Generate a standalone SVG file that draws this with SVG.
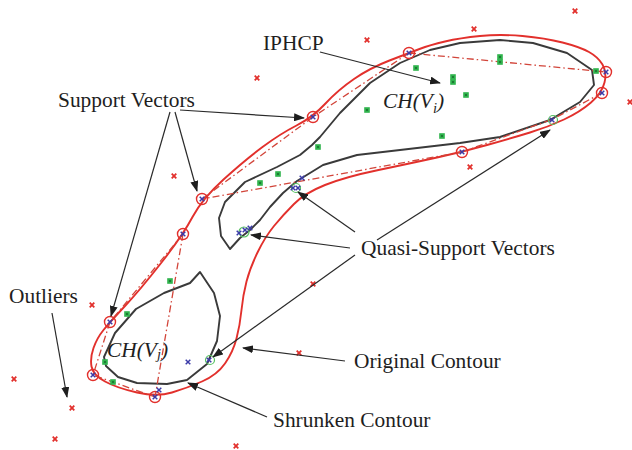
<svg xmlns="http://www.w3.org/2000/svg" width="632" height="450" viewBox="0 0 632 450">
<defs>
<style>
.red{fill:none;stroke:#e2302c;stroke-width:1.9;stroke-linejoin:round}
.blk{fill:none;stroke:#3a3a3a;stroke-width:1.9;stroke-linejoin:round}
.dd{fill:none;stroke:#d2453a;stroke-width:1.3;stroke-dasharray:7,3,1.5,3}
.con{fill:none;stroke:#2a2a2a;stroke-width:1.2;marker-end:url(#ah)}
.lbl{font-family:"Liberation Serif","Times New Roman",serif;font-size:21.4px;fill:#1e1e1e}
.it{font-style:italic}
.sv{fill:none;stroke:#e2302c;stroke-width:1.4}
.qv{fill:none;stroke:#55c060;stroke-width:1.2}
</style>
<marker id="ah" markerUnits="userSpaceOnUse" markerWidth="11" markerHeight="8" refX="10" refY="4" orient="auto">
<path d="M0,0 L11,4 L0,8 z" fill="#1e1e1e"/>
</marker>
<g id="rx"><path d="M-2.3,-2.3 L2.3,2.3 M2.3,-2.3 L-2.3,2.3" stroke="#e2302c" stroke-width="1.8"/></g>
<g id="bx"><path d="M-2.3,-2.3 L2.3,2.3 M2.3,-2.3 L-2.3,2.3" stroke="#3b3ba8" stroke-width="1.5"/></g>
<g id="gs"><rect x="-2.8" y="-2.8" width="5.6" height="5.6" fill="#2fb34c"/><rect x="-1" y="-1" width="2" height="2" fill="#1d7a33"/></g>
</defs>
<rect width="632" height="450" fill="#ffffff"/>

<g id="contours">
<path id="original-contour" class="red" d="M137,392.5 Q157,397 172,392.5 Q187,388 202,381.5 Q217,375 225,363.5 Q233,352 236.5,338.5 Q240,325 241.5,310 Q243,295 246.5,281.5 Q250,268 257.5,252.5 Q265,237 274,226 Q283,215 294,204 Q305,193 325,185 Q345,177 378.5,170 Q412,163 437,157.5 Q462,152 487,145 Q512,138 530,132.5 Q548,127 564,119.5 Q580,112 591,102.5 Q602,93 604.5,82.5 Q607,72 602.5,64.5 Q598,57 589,52 Q580,47 562.5,42.5 Q545,38 522.5,36 Q500,34 480,36 Q460,38 445,41.5 Q430,45 419.5,49 Q409,53 389.5,60.5 Q370,68 354,79 Q338,90 325.5,103.5 Q313,117 296.5,125.5 Q280,134 262.5,147 Q245,160 223.5,179.5 Q202,199 192.5,217 Q183,235 161.5,262.5 Q140,290 125,306 Q110,322 103.5,330 Q97,338 93.5,348 Q90,358 91.5,366.5 Q93,375 105,381.5 Q117,388 137,392.5 Z"/>
<polygon id="shrunken-i" class="blk" points="230,249 221,236 219,218 225,202 245,182 277,167 300,155 312,145 320,137 340,113 370,83 400,63 430,50 460,43 500,40 533,43 567,53 592,70 594,85 580,102 550,120 500,137 460,143 400,150 357,155 323,165 297,181 283,193 270,207 260,220 250,230 240,238"/>
<polygon id="shrunken-j" class="blk" points="200,272 190,283 164,293 136,309 115,333 104,357 106,366 118,377 137,383 167,384 187,380 207,364 217,341 220,316 214,293"/>
</g>

<g id="hull">
<path class="dd" d="M409,53 L606,72 M602,93 L553,119 L462,152 M462,152 L202,199 M202,199 L313,117 L409,53 M183,234 L110,322 M183,234 L155,397 M110,322 L93,375 L155,397"/>
</g>

<g id="outliers">
<use href="#rx" x="257" y="78"/><use href="#rx" x="174" y="176"/><use href="#rx" x="367" y="40"/>
<use href="#rx" x="474" y="29"/><use href="#rx" x="575" y="11"/><use href="#rx" x="630" y="102"/>
<use href="#rx" x="470" y="167"/><use href="#rx" x="92" y="305"/><use href="#rx" x="14" y="379"/>
<use href="#rx" x="72" y="408"/><use href="#rx" x="55" y="439"/><use href="#rx" x="236" y="446"/>
<use href="#rx" x="313" y="284"/><use href="#rx" x="299" y="353"/>
</g>

<g id="inner-points">
<use href="#gs" x="416" y="68"/><use href="#gs" x="453" y="77"/><use href="#gs" x="453" y="82"/>
<use href="#gs" x="466" y="95"/><use href="#gs" x="367" y="110"/><use href="#gs" x="442" y="136"/>
<use href="#gs" x="318" y="147"/><use href="#gs" x="500" y="57"/><use href="#gs" x="500" y="62"/>
<use href="#gs" x="596" y="71"/><use href="#gs" x="278" y="174"/><use href="#gs" x="260" y="183"/>
<use href="#gs" x="170" y="281"/><use href="#gs" x="127" y="314"/><use href="#gs" x="105" y="362"/>
<use href="#gs" x="113" y="382"/>
</g>

<g id="support-vectors">
<circle class="sv" cx="409" cy="53" r="5.5"/><use href="#bx" x="409" y="53"/>
<circle class="sv" cx="313" cy="117" r="5.5"/><use href="#bx" x="313" y="117"/>
<circle class="sv" cx="202" cy="199" r="5.5"/><use href="#bx" x="202" y="199"/>
<circle class="sv" cx="183" cy="234" r="5.5"/><use href="#bx" x="183" y="234"/>
<circle class="sv" cx="110" cy="322" r="5.5"/><use href="#bx" x="110" y="322"/>
<circle class="sv" cx="93" cy="375" r="5.5"/><use href="#bx" x="93" y="375"/>
<circle class="sv" cx="155" cy="397" r="5.5"/><use href="#bx" x="155" y="397"/>
<circle class="sv" cx="606" cy="72" r="5.5"/><use href="#bx" x="606" y="72"/>
<circle class="sv" cx="602" cy="93" r="5.5"/><use href="#bx" x="602" y="93"/>
<circle class="sv" cx="462" cy="152" r="5.5"/><use href="#bx" x="462" y="152"/>
</g>

<g id="quasi-support-vectors">
<circle class="qv" cx="553" cy="120" r="4.5"/><use href="#bx" x="552" y="120"/>
<circle class="qv" cx="296" cy="188" r="4.5"/><use href="#bx" x="293" y="188"/><use href="#bx" x="298" y="188"/>
<circle class="qv" cx="244" cy="232" r="5"/><use href="#bx" x="239" y="233"/><use href="#bx" x="245" y="230"/><use href="#bx" x="250" y="228"/>
<circle class="qv" cx="210" cy="360" r="4.5"/><use href="#bx" x="209" y="360"/>
<use href="#bx" x="302" y="178"/><use href="#bx" x="188" y="362"/><use href="#bx" x="159" y="390"/>
</g>

<g id="label-iphcp"><text class="lbl" x="263" y="50">IPHCP</text></g>
<g id="label-support"><text class="lbl" x="58" y="107">Support Vectors</text></g>
<g id="label-quasi"><text class="lbl" x="361" y="255">Quasi-Support Vectors</text></g>
<g id="label-original"><text class="lbl" x="354" y="368">Original Contour</text></g>
<g id="label-shrunken"><text class="lbl" x="273" y="427">Shrunken Contour</text></g>
<g id="label-outliers"><text class="lbl" x="9" y="303">Outliers</text></g>
<g id="label-chvi"><text class="lbl it" x="383" y="108">CH(V<tspan font-size="14.5" dy="5">i</tspan><tspan dy="-5">)</tspan></text></g>
<g id="label-chvj"><text class="lbl it" x="107" y="357">CH(V<tspan font-size="14.5" dy="2">j</tspan><tspan dy="-2">)</tspan></text></g>

<g id="connectors">
<line class="con" x1="320" y1="52" x2="440" y2="83"/>
<line class="con" x1="180" y1="110" x2="304" y2="118"/>
<line class="con" x1="175" y1="112" x2="197" y2="191"/>
<line class="con" x1="170" y1="112" x2="111" y2="316"/>
<line class="con" x1="377" y1="240" x2="550" y2="130"/>
<line class="con" x1="355" y1="232" x2="298" y2="192"/>
<line class="con" x1="350" y1="248" x2="251" y2="235"/>
<line class="con" x1="355" y1="255" x2="213" y2="357"/>
<line class="con" x1="345" y1="361" x2="243" y2="348"/>
<line class="con" x1="267" y1="417" x2="188" y2="383"/>
<line class="con" x1="52" y1="313" x2="67" y2="397"/>
</g>
</svg>
